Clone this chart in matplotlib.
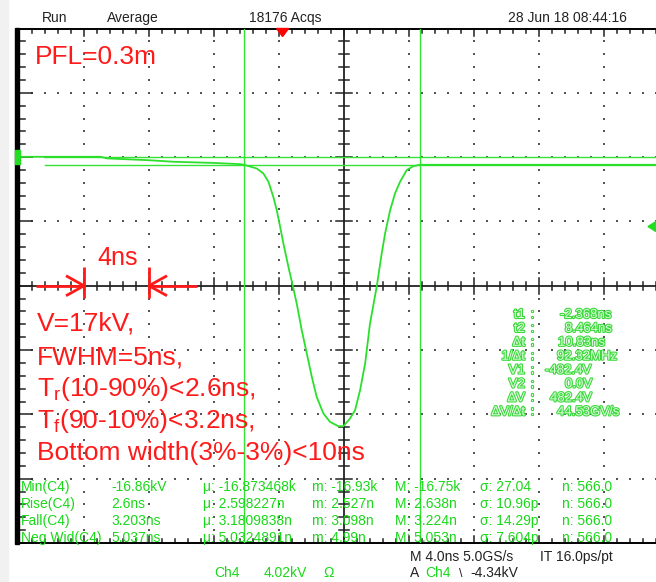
import matplotlib
matplotlib.use("Agg")
import matplotlib.pyplot as plt
import numpy as np
from matplotlib import patheffects as pe
from matplotlib.patches import Polygon, Rectangle

# ---------------- data ----------------
t_ns = [-16.2, -11.2, -10.8, -8.3, -6.7, -4.3, -2.6, -2.37, -1.59, -1.18, -0.87,
        -0.57, -0.36, -0.15, 0.05, 0.36, 0.63, 0.87, 1.18, 1.49, 1.80, 2.10, 2.51,
        2.92, 3.43, 3.74, 4.15, 4.46, 4.77, 5.08, 5.38, 5.80, 6.10, 6.31, 6.62,
        6.92, 7.23, 7.64, 8.05, 8.46, 23.8]
v_kv = [0.02, 0.02, -0.08, -0.19, -0.29, -0.36, -0.44, -0.48, -0.71, -1.02, -1.54,
        -2.48, -3.31, -4.36, -5.40, -6.86, -8.05, -9.15, -10.82, -12.27, -13.74,
        -14.99, -16.02, -16.55, -16.82, -16.82, -16.34, -15.82, -14.57, -12.90,
        -10.40, -8.05, -6.02, -4.77, -3.31, -2.27, -1.54, -0.81, -0.56, -0.48, -0.48]

time_per_div = 4.0      # ns
volts_per_div = 4.02    # kV
center_t = 3.78         # ns at screen centre
center_v = -8.04        # kV at screen centre
cursor_t = [-2.368, 8.464]
cursor_v = [-0.4824, 0.0]
trig_level = -4.34
trig_pos = 0.0

header = ["Run", "Average", "18176 Acqs", "28 Jun 18 08:44:16"]
notes = ["V=17kV,", "FWHM=5ns,", r"T$_\mathregular{r}$(10-90%)<2.6ns,",
         r"T$_\mathregular{f}$(90-10%)<3.2ns,", "Bottom width(3%-3%)<10ns"]
cur_labels = ["t1", "t2", "\u0394t", "1/\u0394t", "V1", "V2", "\u0394V", "\u0394V/\u0394t"]
cur_values = ["-2.368ns", "8.464ns", "10.83ns", "92.32MHz", "-482.4V", "0.0V",
              "482.4V", "44.53GV/s"]
meas_names = ["Min(C4)", "Rise(C4)", "Fall(C4)", "Neg Wid(C4)"]
meas_value = ["-16.86kV", "2.6ns", "3.203ns", "5.037ns"]
meas_mean = ["-16.873468k", "2.598227n", "3.1809838n", "5.0324891n"]
meas_min = ["-16.93k", "2.527n", "3.098n", "4.99n"]
meas_max = ["-16.75k", "2.638n", "3.224n", "5.053n"]
meas_sd = ["27.04", "10.96p", "14.29p", "7.604p"]
meas_n = ["566.0", "566.0", "566.0", "566.0"]

# ---------------- figure ----------------
W, H = 656, 582
fig = plt.figure(figsize=(W / 100, H / 100), dpi=100)
fig.patch.set_facecolor("white")
FONT = "Liberation Sans"


def fx(x):
    return x / W


def fy(y):
    return 1 - y / H


ax = fig.add_axes([fx(19), 1 - 543 / H, 650 / W, 514.5 / H])
ax.set_xlim(center_t - 5 * time_per_div, center_t + 5 * time_per_div)
ax.set_ylim(center_v - 4 * volts_per_div, center_v + 4 * volts_per_div)
ax.set_xticks([])
ax.set_yticks([])
for s in ["left", "right"]:
    ax.spines[s].set_visible(False)
ax.spines["top"].set_linewidth(1.4)
ax.spines["bottom"].set_linewidth(1.4)
ax.patch.set_alpha(0)

x0, x1 = ax.get_xlim()
y0, y1 = ax.get_ylim()
pxx = (x1 - x0) / 650.0
pxy = (y1 - y0) / 514.5

mx = time_per_div / 5
my = volts_per_div / 5
xminor = x0 + mx * np.arange(0, 51)
yminor = y0 + my * np.arange(0, 41)

# dotted graticule
dot_kw = dict(s=1.3, marker="s", color="#555555", linewidths=0, zorder=1)
for k in range(-4, 5):
    if k == 0:
        continue
    xs = center_t + k * time_per_div
    ax.scatter(np.full(yminor.size, xs), yminor, **dot_kw)
for j in range(-3, 4):
    if j == 0:
        continue
    ys = center_v + j * volts_per_div
    ax.scatter(xminor, np.full(xminor.size, ys), **dot_kw)

# centre axes with ticks
ax.axvline(center_t, color="#222222", lw=1.3, zorder=2)
ax.axhline(center_v, color="#222222", lw=1.3, zorder=2)
for i, yv in enumerate(yminor):
    L = (8 if i % 5 == 0 else 5) * pxx
    ax.plot([center_t - L, center_t + L], [yv, yv], color="#222222", lw=1.1, zorder=2)
for i, xv in enumerate(xminor):
    L = (8 if i % 5 == 0 else 4) * pxy
    ax.plot([xv, xv], [center_v - L, center_v + L], color="#222222", lw=1.1, zorder=2)
    # top & bottom border ticks
    Lb = (7 if i % 5 == 0 else 4) * pxy
    ax.plot([xv, xv], [y1, y1 - Lb], color="#222222", lw=1.1, zorder=2, clip_on=False)
    ax.plot([xv, xv], [y0, y0 + Lb], color="#222222", lw=1.1, zorder=2, clip_on=False)
for i, yv in enumerate(yminor):
    L = (13 if i % 5 == 0 else 6) * pxx
    ax.plot([x0, x0 + L], [yv, yv], color="#222222", lw=1.1, zorder=2, clip_on=False)

# waveform
ax.plot(t_ns, v_kv, color="#2be02b", lw=1.3, zorder=4, clip_on=True)

# cursors
cur_col = "#35e335"
for tc in cursor_t:
    ax.axvline(tc, color=cur_col, lw=1.0, zorder=3)
for vc in cursor_v:
    ax.axhline(vc, xmin=26 / 650, color=cur_col, lw=1.0, zorder=3)

# trigger position marker (top) and level marker (right)
ax.add_patch(Polygon([[trig_pos - 6 * pxx, y1], [trig_pos + 6 * pxx, y1],
                      [trig_pos, y1 - 8 * pxy]], closed=True, color="red",
                     clip_on=False, zorder=6))
xr = x0 + (656 - 19) * pxx
ax.add_patch(Polygon([[xr - 8 * pxx, trig_level], [xr, trig_level + 5 * pxy],
                      [xr, trig_level - 5 * pxy]], closed=True, color="#22dd22",
                     clip_on=False, zorder=6))

# left black bar and ground marker
fig.patches.append(Rectangle((fx(15), fy(544)), 4.3 / W, 516 / H,
                             transform=fig.transFigure, color="black", zorder=5))
fig.patches.append(Rectangle((fx(15), fy(164)), 5 / W, 14 / H,
                             transform=fig.transFigure, color="#22dd22", zorder=6))
fig.patches.append(Rectangle((0, 0), 8 / W, 1, transform=fig.transFigure,
                             color="#f1f1f1", zorder=0))

# red 4ns markers
red = "#ff1a1a"
ta = center_t - 4 * time_per_div
tb = ta + time_per_div
rl = dict(color=red, lw=2.0, zorder=7, solid_capstyle="butt")
ax.plot([ta - 48 * pxx, ta], [center_v, center_v], **rl)
ax.plot([tb, tb + 48 * pxx], [center_v, center_v], **rl)
ax.plot([ta - 18 * pxx, ta, ta - 18 * pxx],
        [center_v + 10 * pxy, center_v, center_v - 10 * pxy], **rl)
ax.plot([tb + 18 * pxx, tb, tb + 18 * pxx],
        [center_v + 10 * pxy, center_v, center_v - 10 * pxy], **rl)
for tv in (ta, tb):
    ax.plot([tv, tv], [center_v + 19 * pxy, center_v - 12 * pxy], **rl)

# ---------------- texts ----------------
hx = [42, 107, 249, 508]
for s, x in zip(header, hx):
    fig.text(fx(x), fy(22), s, fontsize=10, family=FONT, color="#222222", va="baseline")

fig.text(fx(35), fy(64), "PFL=0.3m", fontsize=19, family=FONT, color=red, va="baseline", zorder=8)
fig.text(fx(97), fy(265), "4ns", fontsize=18, family=FONT, color=red, va="baseline", zorder=8)
for s, yb in zip(notes, [331, 364, 396, 428, 460]):
    fig.text(fx(37), fy(yb), s, fontsize=19, family=FONT, color=red, va="baseline", zorder=8)

# cursor readout
glow = [pe.withStroke(linewidth=1.6, foreground="#3ed83e")]
val_x = [560, 565, 558, 557, 545, 565, 550, 557]
for i, (lab, val) in enumerate(zip(cur_labels, cur_values)):
    yb = 318 + i * 13.9
    fig.text(fx(525), fy(yb), lab, fontsize=9.5, family=FONT, color="#d8ffd8",
             ha="right", va="baseline", path_effects=glow, zorder=8)
    fig.text(fx(531), fy(yb), ":", fontsize=9.5, family=FONT, color="#d8ffd8",
             va="baseline", path_effects=glow, zorder=8)
    fig.text(fx(val_x[i]), fy(yb), val, fontsize=9.5, family=FONT, color="#d8ffd8",
             va="baseline", path_effects=glow, zorder=8)

# measurement table
gcol = "#19d819"
cols = [(21, None), (111, None), (203, "\u03bc: "), (312, "m: "), (395, "M: "),
        (480, "\u03c3: "), (562, "n: ")]
for r in range(4):
    yb = 491 + r * 17
    row = [meas_names[r], meas_value[r], meas_mean[r], meas_min[r], meas_max[r],
           meas_sd[r], meas_n[r]]
    for (x, pre), s in zip(cols, row):
        fig.text(fx(x), fy(yb), (pre or "") + s, fontsize=10, family=FONT, color=gcol,
                 va="baseline", zorder=8)

# bottom status line
fig.text(fx(410), fy(561), "M 4.0ns 5.0GS/s", fontsize=10, family=FONT, color="#222222", va="baseline")
fig.text(fx(540), fy(561), "IT 16.0ps/pt", fontsize=10, family=FONT, color="#222222", va="baseline")
fig.text(fx(214), fy(577), "Ch4", fontsize=10, family=FONT, color=gcol, va="baseline")
fig.text(fx(264), fy(577), "4.02kV", fontsize=10, family=FONT, color=gcol, va="baseline")
fig.text(fx(323), fy(577), "\u03a9", fontsize=10, family=FONT, color=gcol, va="baseline")
fig.text(fx(410), fy(577), "A", fontsize=10, family=FONT, color="#222222", va="baseline")
fig.text(fx(425), fy(577), "Ch4", fontsize=10, family=FONT, color=gcol, va="baseline")
fig.text(fx(459), fy(577), "\\", fontsize=9, family=FONT, color="#222222", va="baseline")
fig.text(fx(470), fy(577), "-4.34kV", fontsize=10, family=FONT, color="#222222", va="baseline")

fig.savefig("out.png", dpi=100, facecolor="white")
